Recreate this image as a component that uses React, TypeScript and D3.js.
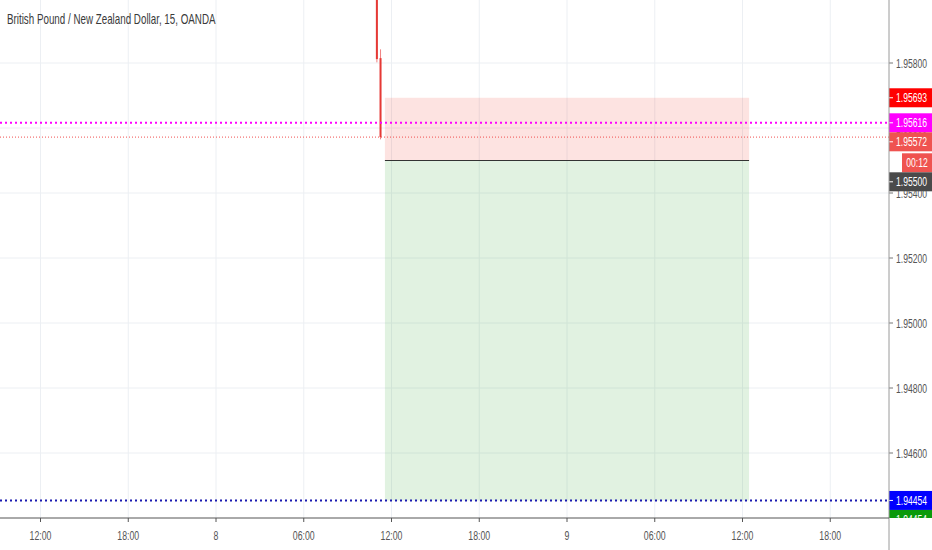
import React, { useEffect } from "react";
import * as d3 from "d3";

const title = "British Pound / New Zealand Dollar, 15, OANDA";

// 15 minute candles (times, OHLC)
const candleTimes = ["2019-08-08 11:00", "2019-08-08 11:15"];
const candleOpen = [1.9625, 1.95815];
const candleHigh = [1.963, 1.95842];
const candleLow = [1.95802, 1.95565];
const candleClose = [1.95812, 1.95572];

// short position tool
const posStart = "2019-08-08 11:33";
const posEnd = "2019-08-09 12:27";
const posEntry = 1.955;
const posStop = 1.95693;
const posTarget = 1.94454;

// horizontal lines
const magentaLevel = 1.95616;
const blueLevel = 1.94454;

const priceTicks = [1.946, 1.948, 1.95, 1.952, 1.954, 1.956, 1.958];
const timeTicks = [
  "2019-08-07 12:00",
  "2019-08-07 18:00",
  "2019-08-08 00:00",
  "2019-08-08 06:00",
  "2019-08-08 12:00",
  "2019-08-08 18:00",
  "2019-08-09 00:00",
  "2019-08-09 06:00",
  "2019-08-09 12:00",
  "2019-08-09 18:00",
];
const countdown = "00:12";

const W = 932;
const H = 550;
const plotR = 889;
const plotB = 518;
const FONT = "'Liberation Sans', Arial, sans-serif";

const parse = d3.timeParse("%Y-%m-%d %H:%M");

// condensed text (the chart's font is a narrow one)
const T = ({ x, y, size = 12, sq = 0.68, fill = "#555", anchor = "start", children }: any) => (
  <text
    transform={`translate(${x},${y}) scale(${sq},1)`}
    fontSize={size}
    fill={fill}
    textAnchor={anchor}
  >
    {children}
  </text>
);

export default function App() {
  useEffect(() => {
    document.body.style.margin = "0";
  }, []);

  const x = d3
    .scaleTime()
    .domain([parse("2019-08-08 00:00")!, parse("2019-08-09 00:00")!])
    .range([216, 567]);
  const y = d3.scaleLinear().domain([1.958, 1.946]).range([63, 453]);

  const fmtTime = (d: Date) =>
    d.getHours() === 0 ? d3.timeFormat("%-d")(d) : d3.timeFormat("%H:%M")(d);

  const candles = candleTimes.map((t, i) => ({
    x: x(parse(t)!),
    o: candleOpen[i],
    h: candleHigh[i],
    l: candleLow[i],
    c: candleClose[i],
  }));
  const lastClose = candleClose[candleClose.length - 1];

  const x0 = x(parse(posStart)!);
  const x1 = x(parse(posEnd)!);

  // price labels on the right axis, stacked so they don't overlap
  const labelH = 19;
  const labels = [
    { v: posStop, bg: "#ff0000", text: posStop.toFixed(5) },
    { v: magentaLevel, bg: "#ff00ff", text: magentaLevel.toFixed(5) },
    { v: lastClose, bg: "#ef5350", text: lastClose.toFixed(5), countdown: true },
    { v: posEntry, bg: "#4a4a4a", text: posEntry.toFixed(5) },
    { v: blueLevel, bg: "#0000ff", text: blueLevel.toFixed(5) },
    { v: posTarget, bg: "#0a9a0a", text: posTarget.toFixed(5) },
  ];
  let prevBottom = -Infinity;
  const placed: any[] = [];
  labels.forEach((lb) => {
    const top = Math.max(y(lb.v) - labelH / 2, prevBottom);
    placed.push({ ...lb, top });
    prevBottom = top + labelH;
    if (lb.countdown) {
      placed.push({ cd: true, top: prevBottom + 2 });
      prevBottom = prevBottom + 2 + labelH;
    }
  });

  return (
    <svg width={W} height={H} style={{ display: "block", background: "#fff" }} fontFamily={FONT}>
      <defs>
        <clipPath id="plot">
          <rect x={0} y={0} width={plotR} height={plotB} />
        </clipPath>
        <clipPath id="axisR">
          <rect x={plotR} y={0} width={W - plotR} height={plotB} />
        </clipPath>
      </defs>

      {/* grid */}
      <g clipPath="url(#plot)">
        {timeTicks.map((t) => (
          <line key={t} x1={x(parse(t)!)} x2={x(parse(t)!)} y1={0} y2={plotB} stroke="#eceff3" />
        ))}
        {priceTicks.map((p) => (
          <line key={p} x1={0} x2={plotR} y1={y(p)} y2={y(p)} stroke="#eceff3" />
        ))}

        {/* position tool */}
        <rect x={x0} y={y(posStop)} width={x1 - x0} height={y(posEntry) - y(posStop)} fill="rgba(244, 67, 54, 0.15)" />
        <rect x={x0} y={y(posEntry)} width={x1 - x0} height={y(posTarget) - y(posEntry)} fill="rgba(76, 175, 80, 0.17)" />
        <line x1={x0} x2={x1} y1={y(posEntry)} y2={y(posEntry)} stroke="#333" strokeWidth={1} />

        {/* candles */}
        {candles.map((c, i) => (
          <g key={i}>
            <line x1={c.x} x2={c.x} y1={y(c.h)} y2={y(c.l)} stroke="#f08080" strokeWidth={1} />
            <rect x={c.x - 1} y={y(c.o)} width={2} height={y(c.c) - y(c.o)} fill="#e53935" />
          </g>
        ))}

        {/* horizontal lines */}
        <line x1={0} x2={plotR} y1={y(lastClose)} y2={y(lastClose)} stroke="#f05050" strokeWidth={1} strokeDasharray="1,2" />
        <line x1={0} x2={plotR} y1={y(magentaLevel)} y2={y(magentaLevel)} stroke="#ff00ff" strokeWidth={2} strokeDasharray="2,3" />
        <line x1={0} x2={plotR} y1={y(blueLevel)} y2={y(blueLevel)} stroke="#1a1ab0" strokeWidth={2} strokeDasharray="2,3" />
      </g>

      {/* title */}
      <T x={7} y={24} size={14} sq={0.7} fill="#3a3a3a">
        {title}
      </T>

      {/* price axis */}
      <g clipPath="url(#axisR)">
        {priceTicks.map((p) => (
          <g key={p}>
            <line x1={plotR} x2={plotR + 4} y1={y(p)} y2={y(p)} stroke="#777" />
            <T x={896} y={y(p) + 4.5} size={13} sq={0.66}>
              {p.toFixed(5)}
            </T>
          </g>
        ))}
        {placed.map((lb, i) =>
          lb.cd ? (
            <g key={i}>
              <rect x={902} y={lb.top} width={30} height={labelH} fill="#ef5350" />
              <T x={917} y={lb.top + 14} size={13} sq={0.66} fill="#fff" anchor="middle">
                {countdown}
              </T>
            </g>
          ) : (
            <g key={i}>
              <rect x={plotR} y={lb.top} width={W - plotR} height={labelH} fill={lb.bg} />
              <line x1={plotR} x2={plotR + 4} y1={lb.top + labelH / 2} y2={lb.top + labelH / 2} stroke="#fff" />
              <T x={896} y={lb.top + 14} size={13} sq={0.66} fill="#fff">
                {lb.text}
              </T>
            </g>
          )
        )}
      </g>
      <line x1={plotR} x2={plotR} y1={0} y2={H} stroke="#9a9a9a" />

      {/* time axis */}
      <line x1={0} x2={plotR} y1={plotB} y2={plotB} stroke="#555" />
      {timeTicks.map((t) => {
        const d = parse(t)!;
        return (
          <g key={t}>
            <line x1={x(d)} x2={x(d)} y1={plotB} y2={plotB + 4} stroke="#555" />
            <T x={x(d)} y={540} size={12.5} sq={0.7} anchor="middle">
              {fmtTime(d)}
            </T>
          </g>
        );
      })}
    </svg>
  );
}
